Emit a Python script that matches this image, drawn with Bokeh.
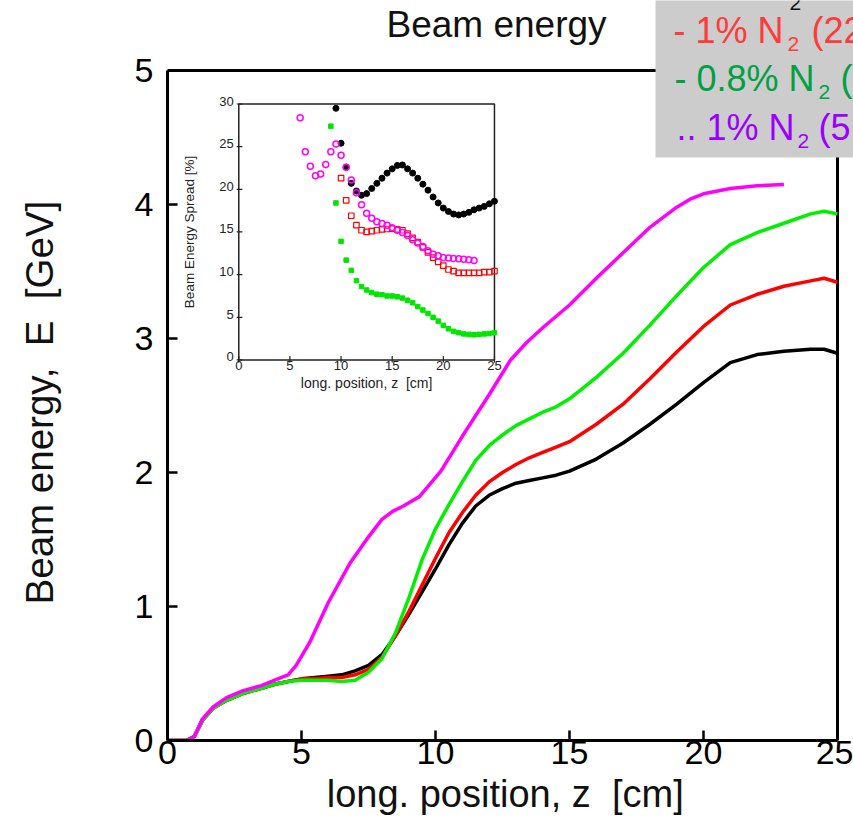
from math import pi
from bokeh.plotting import figure
from bokeh.models import Range1d, FixedTicker, BoxAnnotation, Label
from bokeh.core.properties import value
from bokeh.embed import file_html
from bokeh.resources import INLINE

FONT = "Liberation Sans"
NB = "\u00a0"  # non-collapsing space

# ---------------- main plot data: beam energy [GeV] vs z [cm] ----------------
z_main = [0, 0.7, 1.0, 1.3, 1.7, 2.2, 2.8, 3.5, 4.0, 4.5, 5.0, 5.5, 6.0, 6.5, 7.0, 7.5,
          8.0, 8.5, 9.0, 9.5, 10.0, 10.5, 11.0, 11.5, 12.0, 12.5, 13.0, 13.5, 14.0, 14.5,
          15.0, 16.0, 17.0, 18.0, 19.0, 20.0, 21.0, 22.0, 23.0, 24.0, 24.5, 25.0]
energy_black = [0, 0, 0.03, 0.15, 0.24, 0.30, 0.35, 0.39, 0.42, 0.44, 0.46, 0.47, 0.48, 0.49,
                0.52, 0.56, 0.64, 0.78, 0.94, 1.11, 1.28, 1.46, 1.62, 1.75, 1.83, 1.88, 1.92,
                1.94, 1.96, 1.98, 2.01, 2.10, 2.22, 2.36, 2.51, 2.67, 2.82, 2.88, 2.905, 2.92,
                2.92, 2.89]
energy_red = [0, 0, 0.03, 0.15, 0.24, 0.30, 0.35, 0.39, 0.42, 0.44, 0.46, 0.46, 0.47, 0.47,
              0.49, 0.53, 0.62, 0.78, 0.96, 1.16, 1.36, 1.55, 1.70, 1.83, 1.93, 2.00, 2.06,
              2.11, 2.15, 2.19, 2.23, 2.36, 2.51, 2.70, 2.90, 3.09, 3.25, 3.33, 3.39, 3.43,
              3.45, 3.42]
energy_green = [0, 0, 0.03, 0.15, 0.24, 0.30, 0.35, 0.39, 0.42, 0.44, 0.45, 0.45, 0.45, 0.44,
                0.45, 0.51, 0.61, 0.80, 1.06, 1.35, 1.58, 1.76, 1.93, 2.09, 2.20, 2.28, 2.35,
                2.40, 2.45, 2.49, 2.55, 2.71, 2.89, 3.10, 3.32, 3.53, 3.70, 3.79, 3.86, 3.93,
                3.95, 3.93]
z_magenta = [0, 0.7, 1.0, 1.3, 1.7, 2.2, 2.8, 3.5, 4.0, 4.5, 4.8, 5.3, 6.0, 6.8, 7.5, 8.0,
             8.4, 8.8, 9.4, 10.2, 11.0, 12.0, 12.8, 13.4, 14.0, 15.0, 16.0, 17.0, 18.0, 19.0,
             19.5, 20.0, 21.0, 22.0, 23.0]
energy_magenta = [0, 0, 0.03, 0.16, 0.25, 0.32, 0.37, 0.41, 0.45, 0.49, 0.56, 0.73, 1.03,
                  1.32, 1.52, 1.65, 1.71, 1.75, 1.82, 2.01, 2.27, 2.58, 2.84, 2.97, 3.08, 3.25,
                  3.45, 3.64, 3.83, 3.98, 4.04, 4.08, 4.12, 4.14, 4.15]

x_ticks = [0, 5, 10, 15, 20, 25]
y_ticks = [0, 1, 2, 3, 4, 5]

# ---------------- inset data: beam energy spread [%] vs z [cm] ----------------
z_spread_black = [9.5, 10, 10.5, 11, 11.5, 12, 12.5, 13, 13.5, 14, 14.5, 15, 15.5, 16, 16.5,
                  17, 17.5, 18, 18.5, 19, 19.5, 20, 20.5, 21, 21.5, 22, 22.5, 23, 23.5, 24,
                  24.5, 25]
spread_black = [29.5, 25.4, 22.6, 20.7, 19.8, 19.3, 19.5, 20.1, 20.7, 21.3, 21.9, 22.4, 22.8,
                22.85, 22.4, 21.9, 21.3, 20.6, 19.9, 19.1, 18.4, 17.8, 17.4, 17.1, 17.0, 17.1,
                17.3, 17.6, 17.8, 18.0, 18.3, 18.6]
z_spread_red = [10, 10.5, 11, 11.5, 12, 12.5, 13, 13.5, 14, 14.5, 15, 15.5, 16, 16.5, 17,
                17.5, 18, 18.5, 19, 19.5, 20, 20.5, 21, 21.5, 22, 22.5, 23, 23.5, 24, 24.5, 25]
spread_red = [21.3, 18.7, 16.9, 15.8, 15.2, 15.0, 15.1, 15.2, 15.3, 15.35, 15.4, 15.3, 15.2,
              14.8, 14.3, 13.8, 13.2, 12.6, 12.0, 11.5, 11.05, 10.6, 10.4, 10.2, 10.2, 10.2,
              10.2, 10.2, 10.3, 10.3, 10.4]
z_spread_green = [9, 9.5, 10, 10.5, 11, 11.5, 12, 12.5, 13, 13.5, 14, 14.5, 15, 15.5, 16, 16.5,
                  17, 17.5, 18, 18.5, 19, 19.5, 20, 20.5, 21, 21.5, 22, 22.5, 23, 23.5, 24,
                  24.5, 25]
spread_green = [27.4, 18.4, 13.9, 11.7, 10.5, 9.3, 8.6, 8.2, 7.9, 7.7, 7.65, 7.5, 7.5, 7.4,
                7.25, 7.0, 6.7, 6.25, 5.85, 5.45, 5.0, 4.55, 4.05, 3.65, 3.35, 3.2, 3.05, 3.0,
                2.95, 3.0, 3.05, 3.1, 3.2]
z_spread_magenta = [6, 6.5, 7, 7.5, 8, 8.5, 9, 9.5, 10, 10.5, 11, 11.5, 12, 12.5, 13, 13.5, 14,
                    14.5, 15, 15.5, 16, 16.5, 17, 17.5, 18, 18.5, 19, 19.5, 20, 20.5, 21, 21.5,
                    22, 22.5, 23]
spread_magenta = [28.4, 24.4, 22.7, 21.6, 21.8, 22.9, 24.4, 25.3, 24.0, 22.6, 21.1, 19.6, 18.2,
                  17.2, 16.6, 16.2, 16.0, 15.8, 15.5, 15.2, 14.95, 14.6, 14.1, 13.7, 13.3,
                  12.8, 12.4, 12.2, 12.0, 11.95, 11.9, 11.85, 11.8, 11.75, 11.65]

inset_x_ticks = [0, 5, 10, 15, 20, 25]
inset_y_ticks = [0, 5, 10, 15, 20, 25, 30]

# legend texts (box is cut by the picture edge)
legend_main = ["- 1% N", "- 0.8% N", ".. 1% N"]
legend_tail = ["(22", "(", "(5"]
legend_colors = ["#ff3a3a", "#00a044", "#9a00ff"]

# ---------------- layout ----------------
W, H = 853, 820
FL, FR, FT, FB = 167, 837, 70, 740  # plot box (z=0..25, E=0..5) in canvas px
X0, X1, Y0, Y1 = 0, 25, 0, 5
BASE_SHIFT = 13  # text baseline correction for 36px text, px


def zx(px):
    return X0 + (px - FL) * (X1 - X0) / (FR - FL)


def ey(py):
    return Y0 + (FB - py) * (Y1 - Y0) / (FB - FT)


# the drawing frame reaches the top and right edges of the canvas, so that the
# legend box and title (which sit outside the plot box) can be drawn
p = figure(width=W, height=H, output_backend="svg", toolbar_location=None, title=None,
           x_range=Range1d(X0, zx(W)), y_range=Range1d(Y0, ey(0)),
           min_border_left=FL, min_border_right=0, min_border_top=0,
           min_border_bottom=H - FB)
p.outline_line_color = None
p.grid.visible = False
p.background_fill_color = "white"
p.border_fill_color = "white"

for ax in (p.xaxis[0], p.yaxis[0]):
    ax.axis_line_width = 3
    ax.axis_line_color = "black"
    ax.major_tick_in = 10
    ax.major_tick_out = 0
    ax.major_tick_line_width = 2.5
    ax.major_tick_line_color = "black"
    ax.minor_tick_line_color = None
    ax.major_label_text_font = FONT
    ax.major_label_text_font_size = "34px"
    ax.major_label_text_color = "black"
    ax.axis_label_text_font = FONT
    ax.axis_label_text_font_style = "normal"
    ax.axis_label_text_color = "#111111"

p.xaxis.ticker = FixedTicker(ticks=x_ticks)
p.yaxis.ticker = FixedTicker(ticks=y_ticks)
p.xaxis.bounds = (X0, X1)
p.yaxis.bounds = (Y0, Y1)
# trailing non-breaking spaces re-centre the labels on the plot box
p.xaxis.axis_label = "long. position, z" + NB * 2 + "[cm]" + NB
p.yaxis.axis_label = "Beam energy," + NB * 2 + "E" + NB * 2 + "[GeV]" + NB * 6
p.xaxis.axis_label_text_font_size = "38px"
p.yaxis.axis_label_text_font_size = "38.5px"
p.xaxis.major_label_standoff = 0
p.xaxis.axis_label_standoff = 6
p.yaxis.major_label_standoff = 14
p.yaxis.axis_label_standoff = 71

# top and right edges of the plot box
p.line(x=[X0, X1, X1], y=[Y1, Y1, Y0], line_color="black", line_width=3)

# main curves
p.line(z_main, energy_black, line_color="black", line_width=3.5)
p.line(z_main, energy_red, line_color="#ff0000", line_width=3.5)
p.line(z_main, energy_green, line_color="#00f000", line_width=3.5)
p.line(z_magenta, energy_magenta, line_color="#ff00ff", line_width=3.5)

# ---------------- inset (own ranges mapped into main frame) ----------------
IZ0, IZ1 = 2.66, 12.20   # main z spanned by inset x axis
IE0, IE1 = 2.84, 4.75    # main E spanned by inset y axis
IX0, IX1 = 0, 25
IY0, IY1 = 0, 30
sx = (IX1 - IX0) / (IZ1 - IZ0)
sy = (IY1 - IY0) / (IE1 - IE0)
p.extra_x_ranges = {"ix": Range1d(IX0 - (IZ0 - X0) * sx, IX1 + (zx(W) - IZ1) * sx)}
p.extra_y_ranges = {"iy": Range1d(IY0 - (IE0 - Y0) * sy, IY1 + (ey(0) - IE1) * sy)}
IR = dict(x_range_name="ix", y_range_name="iy")

p.quad(left=[IX0], right=[IX1], bottom=[IY0], top=[IY1], fill_color="white",
       line_color="#222222", line_width=1.5, **IR)
p.segment(x0=inset_x_ticks, y0=[-0.3] * len(inset_x_ticks), x1=inset_x_ticks,
          y1=[0.45] * len(inset_x_ticks), line_color="#222222", line_width=1.2, **IR)
p.segment(x0=[-0.2] * len(inset_y_ticks), y0=inset_y_ticks, x1=[0.35] * len(inset_y_ticks),
          y1=inset_y_ticks, line_color="#222222", line_width=1.2, **IR)
p.text(x=inset_x_ticks, y=[IY0] * len(inset_x_ticks), text=[str(t) for t in inset_x_ticks],
       text_align="center", text_baseline="top", y_offset=1, text_font=value(FONT),
       text_font_size="13px", text_color="#222222", **IR)
p.text(x=[IX0] * len(inset_y_ticks), y=inset_y_ticks, text=[str(t) for t in inset_y_ticks],
       text_align="right", text_baseline="middle", x_offset=-5, y_offset=-3,
       text_font=value(FONT), text_font_size="13px", text_color="#222222", **IR)
p.text(x=[(IX0 + IX1) / 2], y=[IY0], text=["long. position, z" + NB * 2 + "[cm]"],
       text_align="center", text_baseline="middle", y_offset=23, text_font=value(FONT),
       text_font_size="14px", text_color="#222222", **IR)
p.text(x=[IX0], y=[(IY0 + IY1) / 2], text=["Beam Energy Spread [%]"], angle=pi / 2,
       text_align="center", text_baseline="middle", x_offset=-49, text_font=value(FONT),
       text_font_size="13.5px", text_color="#222222", **IR)

p.scatter(z_spread_black, spread_black, marker="circle", size=6, fill_color="black",
          line_color="black", **IR)
p.scatter(z_spread_green, spread_green, marker="square", size=4.5, fill_color="#00e600",
          line_color="#00e600", **IR)
p.scatter(z_spread_red, spread_red, marker="square", size=5.5, fill_color=None,
          line_color="#ff0000", line_width=1.2, **IR)
p.scatter(z_spread_magenta, spread_magenta, marker="circle", size=6, fill_color=None,
          line_color="#ff00ff", line_width=1.5, **IR)

# ---------------- title and (cut-off) legend box ----------------
p.add_layout(Label(x=zx(496), y=ey(37 - BASE_SHIFT), text="Beam energy", text_align="center",
                   text_baseline="alphabetic", text_font=FONT, text_font_size="37px",
                   text_color="#111111"))

p.add_layout(BoxAnnotation(left=zx(655), right=zx(W + 20), top=ey(-20), bottom=ey(157),
                           fill_color="#cccccc", fill_alpha=1.0, line_color=None))

p.add_layout(Label(x=zx(789), y=ey(2.5), text="2", text_align="left",
                   text_baseline="alphabetic", text_font=FONT, text_font_size="21px",
                   text_color="#111111"))
main_x = [673, 674, 676]
sub_x = [787, 818, 797]
tail_x = [811, 840, 818]
base_y = [43, 91, 140]
for i in range(3):
    c = legend_colors[i]
    b = base_y[i] - BASE_SHIFT
    p.add_layout(Label(x=zx(main_x[i]), y=ey(b), text=legend_main[i],
                       text_align="left", text_baseline="alphabetic", text_font=FONT,
                       text_font_size="36px", text_color=c))
    p.add_layout(Label(x=zx(sub_x[i]), y=ey(b + 13), text="2",
                       text_align="left", text_baseline="alphabetic", text_font=FONT,
                       text_font_size="21px", text_color=c))
    p.add_layout(Label(x=zx(tail_x[i]), y=ey(b), text=legend_tail[i],
                       text_align="left", text_baseline="alphabetic", text_font=FONT,
                       text_font_size="36px", text_color=c))

open("out.html", "w").write(file_html(p, INLINE))
